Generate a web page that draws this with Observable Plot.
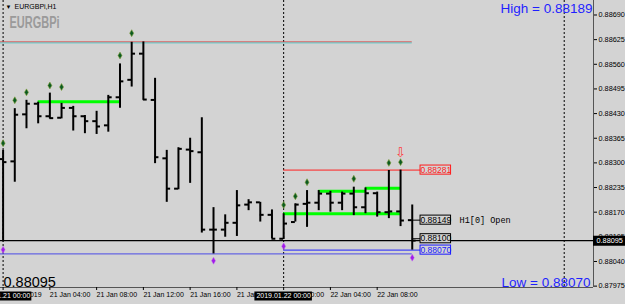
<!DOCTYPE html>
<html><head><meta charset="utf-8">
<script src="https://cdn.jsdelivr.net/npm/d3@7"></script>
<script src="https://cdn.jsdelivr.net/npm/@observablehq/plot@0.6"></script>
<style>
html,body{margin:0;padding:0;background:#d3d3d3;}
#chart svg{display:block;}
</style></head><body><div id="chart"></div>
<script>
// ---- data (EURGBPi, H1) ----
const barTimes = [
 "2019-01-21 00:00","2019-01-21 01:00","2019-01-21 02:00","2019-01-21 03:00","2019-01-21 04:00","2019-01-21 05:00",
 "2019-01-21 06:00","2019-01-21 07:00","2019-01-21 08:00","2019-01-21 09:00","2019-01-21 10:00","2019-01-21 11:00",
 "2019-01-21 12:00","2019-01-21 13:00","2019-01-21 14:00","2019-01-21 15:00","2019-01-21 16:00","2019-01-21 17:00",
 "2019-01-21 18:00","2019-01-21 19:00","2019-01-21 20:00","2019-01-21 21:00","2019-01-21 22:00","2019-01-21 23:00",
 "2019-01-22 00:00","2019-01-22 01:00","2019-01-22 02:00","2019-01-22 03:00","2019-01-22 04:00","2019-01-22 05:00",
 "2019-01-22 06:00","2019-01-22 07:00","2019-01-22 08:00","2019-01-22 09:00","2019-01-22 10:00","2019-01-22 11:00"];
const barOpen  = [0.88310,0.88304,0.88428,0.88456,0.88423,0.88419,0.88445,0.88423,0.88410,0.88399,0.88473,0.88519,
                  0.88588,0.88466,0.88312,0.88232,0.88335,0.88328,0.88124,0.88124,0.88142,0.88190,0.88196,0.88163,
                  0.88100,0.88144,0.88192,0.88195,0.88219,0.88195,0.88219,0.88183,0.88220,0.88170,0.88172,0.88149];
const barHigh  = [0.88333,0.88443,0.88465,0.88460,0.88484,0.88457,0.88449,0.88425,0.88436,0.88478,0.88561,0.88618,
                  0.88619,0.88523,0.88333,0.88340,0.88365,0.88419,0.88182,0.88163,0.88227,0.88203,0.88196,0.88176,
                  0.88166,0.88192,0.88227,0.88227,0.88225,0.88223,0.88236,0.88234,0.88223,0.88280,0.88281,0.88189];
const barLow   = [0.88092,0.88249,0.88390,0.88403,0.88416,0.88416,0.88384,0.88377,0.88375,0.88381,0.88444,0.88500,
                  0.88465,0.88298,0.88196,0.88229,0.88246,0.88115,0.88060,0.88104,0.88106,0.88174,0.88144,0.88100,
                  0.88098,0.88144,0.88130,0.88174,0.88170,0.88174,0.88161,0.88166,0.88157,0.88153,0.88132,0.88070];
const barClose = [0.88302,0.88427,0.88456,0.88423,0.88418,0.88445,0.88423,0.88410,0.88396,0.88473,0.88515,0.88588,
                  0.88467,0.88315,0.88232,0.88337,0.88331,0.88124,0.88124,0.88142,0.88188,0.88196,0.88163,0.88100,
                  0.88140,0.88190,0.88195,0.88219,0.88195,0.88219,0.88183,0.88220,0.88170,0.88172,0.88148,0.88095];

// fractal-like markers
const upMarkTimes  = ["2019-01-21 00:00","2019-01-21 01:00","2019-01-21 02:00","2019-01-21 04:00","2019-01-21 05:00",
                      "2019-01-21 10:00","2019-01-21 11:00","2019-01-22 00:00","2019-01-22 01:00","2019-01-22 02:00",
                      "2019-01-22 06:00","2019-01-22 09:00","2019-01-22 10:00"];
const upMarkPrices = [0.88352,0.88465,0.88486,0.88504,0.88500,0.88583,0.88642,0.88189,0.88212,0.88249,0.88258,0.88300,0.88302];
const downMarkTimes  = ["2019-01-21 00:00","2019-01-21 18:00","2019-01-22 00:00","2019-01-22 11:00"];
const downMarkPrices = [0.88071,0.88042,0.88080,0.88050];

// green levels
const greenFrom  = ["2019-01-21 03:00","2019-01-22 03:00","2019-01-22 07:00","2019-01-22 00:00"];
const greenTo    = ["2019-01-21 10:00","2019-01-22 07:00","2019-01-22 10:00","2019-01-22 10:00"];
const greenPrice = [0.88461,0.88225,0.88233,0.88166];

// levels and labels
const topLevel = 0.88619;
const lowestLevel = 0.88060;
const bidPrice = 0.88095;
const rangeStart = "2019-01-22 00:00";
const labelPrices = [0.88281, 0.88149, 0.88100, 0.88070];
const labelTexts  = ["0.88281","0.88149","0.88100","0.88070"];
const labelColors = ["#ff1a1a","#000000","#000000","#1a1aff"];
const separators = ["2019-01-21 00:00","2019-01-22 00:00","2019-01-23 00:00"];

const priceTicks = [0.88690,0.88625,0.88560,0.88495,0.88430,0.88365,0.88300,0.88235,0.88170,0.88105,0.88040,0.87975];
const timeTickAt = ["2019-01-21 00:00","2019-01-21 04:00","2019-01-21 08:00","2019-01-21 12:00","2019-01-21 16:00",
                    "2019-01-21 20:00","2019-01-22 00:00","2019-01-22 04:00","2019-01-22 08:00"];
const timeTickLabels = ["21 Jan 2019","21 Jan 04:00","21 Jan 08:00","21 Jan 12:00","21 Jan 16:00",
                        "21 Jan 20:00","22 Jan 00:00","22 Jan 04:00","22 Jan 08:00"];
const crossLabelAt = ["2019-01-21 00:00","2019-01-22 00:00"];
const crossLabelText = ["2019.01.21 00:00","2019.01.22 00:00"];

// ---- build ----
const parse = d3.utcParse("%Y-%m-%d %H:%M");
const HOUR = 3600e3;
const shift = (d, h) => new Date(+d + h * HOUR);

const bars = barTimes.map((t, i) => ({t: parse(t), open: barOpen[i], high: barHigh[i], low: barLow[i], close: barClose[i]}));
const ups = upMarkTimes.map((t, i) => ({t: parse(t), p: upMarkPrices[i]}));
const downs = downMarkTimes.map((t, i) => ({t: parse(t), p: downMarkPrices[i]}));
const greens = greenFrom.map((f, i) => ({a: parse(f), b: parse(greenTo[i]), p: greenPrice[i]}));
const t0 = bars[0].t;
const tLast = bars[bars.length - 1].t;
const tRange = parse(rangeStart);
const xDomain = [shift(t0, -0.222), shift(t0, 50.505)];
const yDomain = [0.879714, 0.887282];
const boxA = shift(tLast, 0.71), boxB = shift(tLast, 3.32);
const labels = labelPrices.map((p, i) => ({p, text: labelTexts[i], color: labelColors[i]}));
const tickMap = new Map(timeTickAt.map((t, i) => [+parse(t), timeTickLabels[i]]));
const crosses = crossLabelAt.map((t, i) => ({t: parse(t), text: crossLabelText[i]}));
const BG = "#d3d3d3";
const f5 = d3.format(".5f");

const chart = Plot.plot({
  width: 625, height: 304,
  marginLeft: 0, marginRight: 32, marginTop: 0, marginBottom: 17,
  style: {background: BG, fontFamily: "'Liberation Sans', Arial, sans-serif", color: "#000", overflow: "visible"},
  x: {type: "utc", domain: xDomain},
  y: {domain: yDomain},
  marks: [
    // period separators
    Plot.ruleX(separators, {x: d => parse(d), stroke: "#000", strokeWidth: 1, strokeDasharray: "2,2"}),
    // frame lines
    Plot.ruleX([xDomain[1]], {stroke: "#555", strokeWidth: 1}),
    Plot.ruleY([yDomain[0]], {stroke: "#555", strokeWidth: 1}),
    // top level line (red + cyan)
    Plot.ruleY([topLevel], {x1: xDomain[0], x2: tLast, stroke: "#d84848", strokeWidth: 1}),
    Plot.ruleY([topLevel], {x1: xDomain[0], x2: tLast, stroke: "#5fc8c8", strokeWidth: 1, dy: 1}),
    // lowest line
    Plot.ruleY([lowestLevel], {x1: xDomain[0], x2: tLast, stroke: "#4a4ae6", strokeWidth: 1}),
    // bid line
    Plot.ruleY([bidPrice], {stroke: "#000", strokeWidth: 1.2}),
    // range levels
    Plot.ruleY([labelPrices[0]], {x1: tRange, x2: boxA, stroke: "#ff2020", strokeWidth: 1}),
    Plot.ruleY([labelPrices[3]], {x1: tRange, x2: boxA, stroke: "#2020ff", strokeWidth: 1}),
    Plot.ruleY([labelPrices[1], labelPrices[2]], {x1: tLast, x2: boxA, stroke: "#000", strokeWidth: 1}),
    // green levels
    Plot.ruleY(greens, {y: "p", x1: "a", x2: "b", stroke: "#00ff00", strokeWidth: 3}),
    // OHLC bars
    Plot.ruleX(bars, {x: "t", y1: "low", y2: "high", stroke: "#000", strokeWidth: 2}),
    Plot.ruleY(bars, {y: "open", x1: d => shift(d.t, -0.33), x2: "t", stroke: "#000", strokeWidth: 2}),
    Plot.ruleY(bars, {y: "close", x1: "t", x2: d => shift(d.t, 0.33), stroke: "#000", strokeWidth: 2}),
    // markers
    Plot.dot(ups, {x: "t", y: "p", symbol: "diamond", r: 2.1, fill: "#0b5a22", stroke: "#7f9f38", strokeWidth: 0.6}),
    Plot.dot(downs, {x: "t", y: "p", symbol: "diamond", r: 2.1, fill: "#a21ae8", stroke: "#c070f0", strokeWidth: 0.5}),
    // arrow
    Plot.text([labelPrices[0]], {x: bars[34].t, y: d => d, dy: -17, text: () => "⇩", fill: "#ff3a3a",
      fontSize: 13, fontFamily: "DejaVu Sans"}),
    // label boxes
    Plot.rect(labels, {x1: boxA, x2: boxB, y1: d => d.p - 0.00012, y2: d => d.p + 0.00012, fill: BG, stroke: d => d.color, strokeWidth: 1}),
    Plot.text(labels, {x: shift(tLast, 2.015), y: "p", text: "text", fill: d => d.color, fontSize: 8.5}),
    Plot.text(["H1[0] Open"], {x: shift(tLast, 4.05), y: labelPrices[1], text: d => d, textAnchor: "start",
      fontSize: 8.5, fontFamily: "'Liberation Mono', 'DejaVu Sans Mono', monospace", fill: "#000"}),
    // axes
    Plot.axisY({anchor: "right", ticks: priceTicks, tickFormat: f5, tickSize: 3, tickPadding: 2, fontSize: 7.3, label: null}),
    Plot.axisX({ticks: timeTickAt.map(parse), tickFormat: d => tickMap.get(+d), tickSize: 3, tickPadding: 2,
      textAnchor: "start", fontSize: 7, label: null}),
    // time cross labels (black boxes)
    Plot.ruleY(crosses, {y: () => yDomain[0], x1: d => shift(d.t, -2.46), x2: d => shift(d.t, 2.46), dy: 8.5,
      stroke: "#000", strokeWidth: 9}),
    Plot.text(crosses, {x: "t", y: () => yDomain[0], dy: 8.5, text: "text", fill: "#fff", fontSize: 7}),
    // current price box on axis
    Plot.ruleY([bidPrice], {x1: xDomain[1], x2: shift(xDomain[1], 3), stroke: "#000", strokeWidth: 10}),
    Plot.text([bidPrice], {x: xDomain[1], y: d => d, dx: 3, text: d => f5(d), textAnchor: "start", fill: "#fff", fontSize: 7.3}),
    // titles
    Plot.text(["▼"], {frameAnchor: "top-left", dx: 5, dy: 4, text: d => d, fontSize: 6, fill: "#000", lineAnchor: "top"}),
    Plot.text(["EURGBPi,H1"], {frameAnchor: "top-left", dx: 14, dy: 3.5, text: d => d, textAnchor: "start", lineAnchor: "top", fontSize: 7, fill: "#000"}),
    Plot.text(["EURGBPi"], {frameAnchor: "top-left", dx: 9, dy: 16, text: d => d, textAnchor: "start", lineAnchor: "top",
      fontSize: 16, fontWeight: "bold", fill: "#9a9a9a"}),
    Plot.text(["High = " + f5(barHigh[35])], {frameAnchor: "top-right", dx: -1, dy: 3, text: d => d, textAnchor: "end", lineAnchor: "top",
      fontSize: 13.5, fill: "#1f1fff"}),
    Plot.text(["Low = " + f5(barLow[35])], {frameAnchor: "bottom-right", dx: -3, dy: -1, text: d => d, textAnchor: "end", lineAnchor: "bottom",
      fontSize: 13.5, fill: "#1f1fff"}),
    Plot.text([f5(bidPrice)], {frameAnchor: "bottom-left", dx: 3, dy: -1, text: d => d, textAnchor: "start", lineAnchor: "bottom",
      fontSize: 14.5, fill: "#000"})
  ]
});
d3.select(chart).selectAll("text").filter(function() { return this.textContent === "EURGBPi"; })
  .attr("textLength", 50).attr("lengthAdjust", "spacingAndGlyphs");
document.getElementById("chart").appendChild(chart);
</script></body></html>
